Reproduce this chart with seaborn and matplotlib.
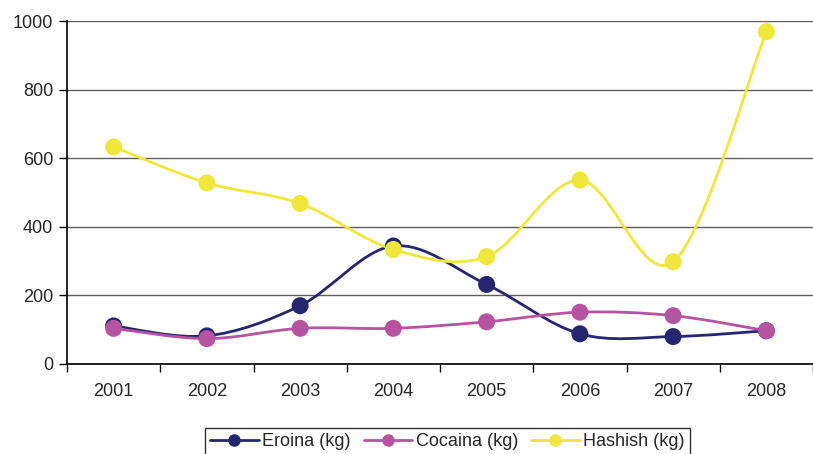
import numpy as np
import pandas as pd
import matplotlib
matplotlib.use('Agg')
import matplotlib.pyplot as plt
from matplotlib.path import Path
from matplotlib.patches import PathPatch
from matplotlib.lines import Line2D
import seaborn as sns

years = ['2001', '2002', '2003', '2004', '2005', '2006', '2007', '2008']
eroina = [111, 82, 170, 344, 232, 88, 80, 97]
cocaina = [104, 74, 104, 104, 123, 151, 141, 97]
hashish = [633, 528, 468, 334, 313, 536, 298, 969]

series = {'Eroina (kg)': eroina, 'Cocaina (kg)': cocaina, 'Hashish (kg)': hashish}
colors = {'Eroina (kg)': '#252570', 'Cocaina (kg)': '#B654A0', 'Hashish (kg)': '#EFE83A'}

df = pd.DataFrame({'year': years, **series}).melt('year', var_name='serie', value_name='kg')
df['pos'] = df['year'].map({y: i for i, y in enumerate(years)})

sns.set_style('white')
plt.rcParams['font.family'] = ['Liberation Sans', 'DejaVu Sans']

fig = plt.figure(figsize=(8.13, 4.54), dpi=100)
ax = fig.add_axes([67 / 813, 1 - 364 / 454, 1 - 67 / 813, (364 - 21) / 454])


# smoothed line like the spreadsheet one: bezier segments between the points
def smooth_path(xs, ys):
    pts = np.column_stack([xs, ys]).astype(float)
    n = len(pts)
    verts = [pts[0]]
    codes = [Path.MOVETO]
    for i in range(n - 1):
        p0 = pts[max(i - 1, 0)]
        p1 = pts[i]
        p2 = pts[i + 1]
        p3 = pts[min(i + 2, n - 1)]
        verts += [p1 + (p2 - p0) / 6, p2 - (p3 - p1) / 6, p2]
        codes += [Path.CURVE4] * 3
    return Path(verts, codes)


for name in series:
    sub = df[df['serie'] == name]
    ax.add_patch(PathPatch(smooth_path(sub['pos'], sub['kg']), fill=False,
                           edgecolor=colors[name], lw=2.0, zorder=3))

sns.scatterplot(data=df, x='pos', y='kg', hue='serie', palette=colors, s=150,
                edgecolor='none', linewidth=0, legend=False, ax=ax, zorder=4)

ax.set_xlim(-0.5, 7.41)
ax.set_ylim(0, 1000)
ax.set_yticks(range(0, 1001, 200))
ax.set_xticks(range(len(years)))
ax.set_xticklabels(years)
ax.set_xticks(np.arange(-0.5, 7.6, 1), minor=True)
ax.tick_params(axis='x', which='major', length=0, pad=14, labelsize=13)
ax.tick_params(axis='x', which='minor', length=6, width=1, color='black', direction='out', bottom=True)
ax.tick_params(axis='y', length=6, width=1, color='black', direction='out', left=True, pad=4, labelsize=13)
ax.yaxis.grid(True, color='#5e5e5e', lw=1)
ax.set_axisbelow(True)
ax.set_xlabel('')
ax.set_ylabel('')
for s in ['top', 'right']:
    ax.spines[s].set_visible(False)
for s in ['left', 'bottom']:
    ax.spines[s].set_color('black')
    ax.spines[s].set_linewidth(1.2)

handles = [Line2D([0], [0], color=colors[n], lw=2, marker='o', markersize=8) for n in series]
leg = fig.legend(handles, list(series), loc='upper center', bbox_to_anchor=(0.5504, 1 - 428 / 454),
                 ncol=3, frameon=True, fancybox=False, edgecolor='black', fontsize=13,
                 handlelength=2.7, handletextpad=0.2, columnspacing=0.7, borderpad=0.3,
                 borderaxespad=0)
leg.get_frame().set_linewidth(1)

fig.savefig('out.png', dpi=100)
plt.close(fig)
